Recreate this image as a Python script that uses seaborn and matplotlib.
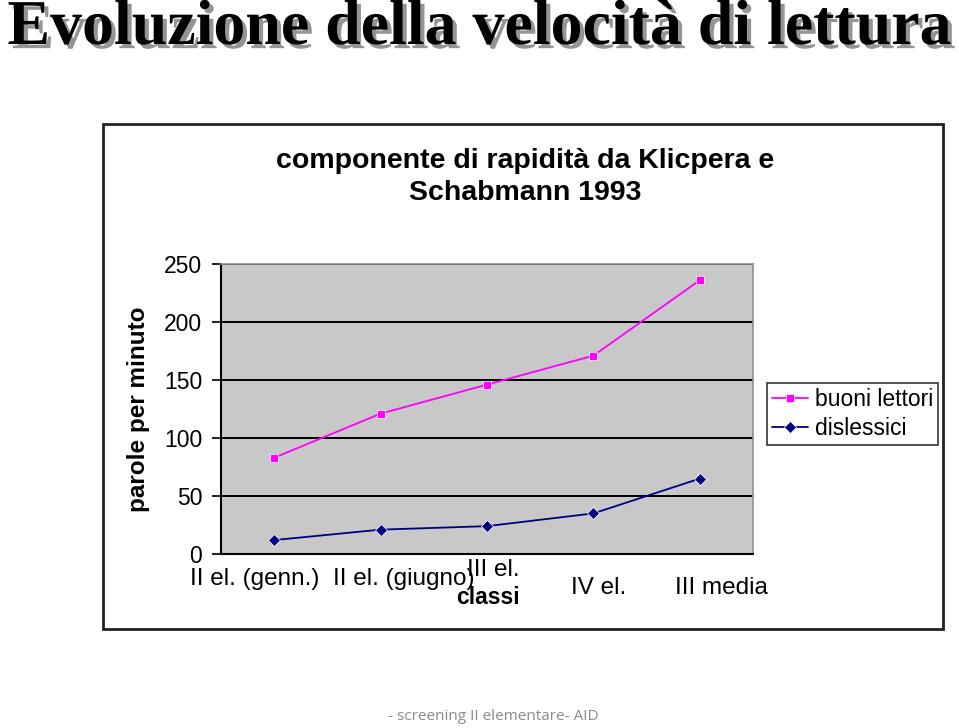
import numpy as np
import pandas as pd
import seaborn as sns
import matplotlib.pyplot as plt
import matplotlib.patheffects as pe
from matplotlib.patches import Rectangle
from matplotlib.transforms import ScaledTranslation

classi = ['II el. (genn.)', 'II el. (giugno)', 'III el.', 'IV el.', 'III media']
buoni_lettori = [83, 121, 146, 171, 236]
dislessici = [12, 21, 24, 35, 65]
y_ticks = [0, 50, 100, 150, 200, 250]

df = pd.DataFrame({
    'classe': classi * 2,
    'pos': list(range(len(classi))) * 2,
    'valore': buoni_lettori + dislessici,
    'gruppo': ['buoni lettori'] * len(classi) + ['dislessici'] * len(classi),
})

sns.set_style('white')
plt.rcParams['font.family'] = ['Liberation Sans', 'DejaVu Sans']
plt.rcParams['text.color'] = 'black'
plt.rcParams['axes.labelcolor'] = 'black'
plt.rcParams['xtick.color'] = 'black'
plt.rcParams['ytick.color'] = 'black'

fig = plt.figure(figsize=(9.59, 7.28), dpi=100)

# outer chart frame
fig.patches.append(Rectangle((103 / 959, 1 - 629 / 728), 840 / 959, 505 / 728,
                             transform=fig.transFigure, fill=False,
                             edgecolor='#222222', linewidth=2))

ax = fig.add_axes([221 / 959, 1 - 554 / 728, 532 / 959, 290 / 728])
ax.set_facecolor('#c8c8c8')

palette = {'buoni lettori': '#ff00ff', 'dislessici': '#000080'}
markers = {'buoni lettori': 's', 'dislessici': 'D'}
sns.lineplot(data=df, x='pos', y='valore', hue='gruppo', style='gruppo',
             palette=palette, markers=markers, dashes=False, linewidth=1.3,
             markersize=6, markeredgewidth=0.5, ax=ax, zorder=3)

ax.set_xlim(-0.5, len(classi) - 0.5)
ax.set_ylim(0, 250)
ax.set_yticks(y_ticks)
ax.set_yticklabels([str(v) for v in y_ticks])
ax.yaxis.grid(True, color='black', linewidth=1.4)
ax.set_axisbelow(True)
ax.tick_params(axis='y', direction='out', length=6.5, width=1.2, color='black',
               labelsize=16.5, pad=7, left=True)

ax.set_xticks(range(len(classi)))
ax.set_xticklabels(classi, fontsize=17.5)
ax.tick_params(axis='x', length=0, pad=1)
# excel style staggered labels (dx, dy in pixels)
shifts = [(-20, -13), (23, -13), (6, -4), (5, -22), (22, -22)]
for lab, (dx, dy) in zip(ax.get_xticklabels(), shifts):
    lab.set_transform(lab.get_transform() + ScaledTranslation(dx / 100, dy / 100, fig.dpi_scale_trans))

for s in ['left', 'bottom']:
    ax.spines[s].set_color('black')
    ax.spines[s].set_linewidth(1.5)
for s in ['top', 'right']:
    ax.spines[s].set_color('#909090')
    ax.spines[s].set_linewidth(1.2)

ax.set_xlabel('classi', fontsize=16.5, fontweight='bold')
ax.xaxis.set_label_coords((488 - 221) / 532, -(598 - 554) / 290)
ax.xaxis.label.set_verticalalignment('center')
ax.set_ylabel('parole per minuto', fontsize=17.5, fontweight='bold')
ax.yaxis.set_label_coords(-(221 - 139) / 532, 0.5)
ax.yaxis.label.set_verticalalignment('center')

leg = ax.legend(title=None, loc='upper left', bbox_to_anchor=((767 - 221) / 532, (554 - 383) / 290),
                frameon=True, fontsize=16.5, handlelength=1.6, handletextpad=0.3,
                borderpad=0.2, borderaxespad=0, labelspacing=0.3, fancybox=False)
leg.get_frame().set_edgecolor('black')
leg.get_frame().set_linewidth(1.2)

fig.text(525 / 959, 1 - 177 / 728, 'componente di rapidità da Klicpera e\nSchabmann 1993',
         ha='center', va='center', fontsize=20.5, fontweight='bold', linespacing=1.3)

fig.text(479 / 959, 1 - 29 / 728, 'Evoluzione della velocità di lettura',
         ha='center', va='center', fontsize=46, fontweight='bold',
         family=['Liberation Serif', 'DejaVu Serif'],
         path_effects=[pe.withSimplePatchShadow(offset=(3, -3), shadow_rgbFace='#888888', alpha=0.9)])

fig.text(493 / 959, 1 - 717 / 728, '- screening II elementare- AID',
         ha='center', va='center', fontsize=11, color='#8a8a8a',
         family=['Open Sans', 'DejaVu Sans'])

fig.savefig('out.png', dpi=100)
